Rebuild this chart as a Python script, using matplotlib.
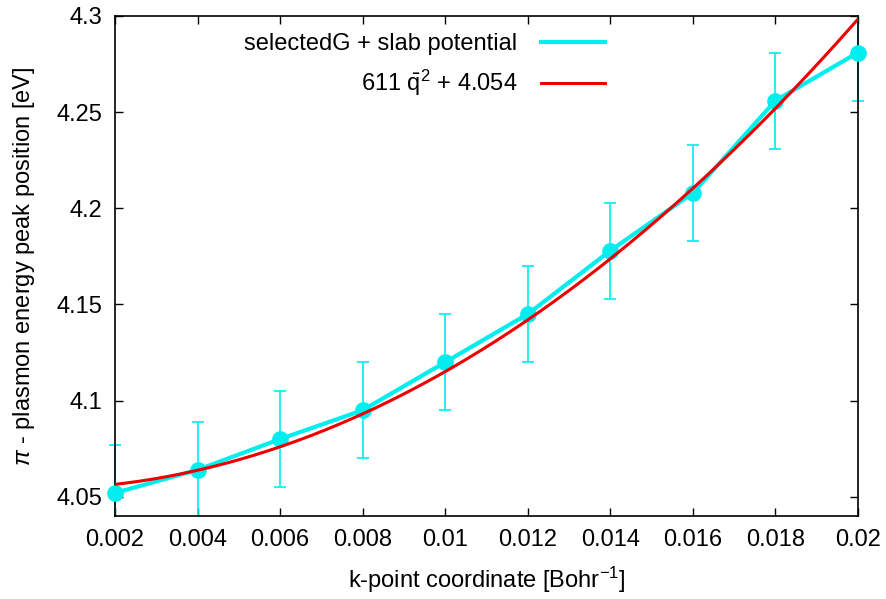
import numpy as np
import matplotlib.pyplot as plt
from matplotlib.lines import Line2D
from matplotlib.patches import Rectangle

plt.rcParams['font.family'] = ['Liberation Sans', 'DejaVu Sans']
plt.rcParams['mathtext.fontset'] = 'custom'
plt.rcParams['mathtext.rm'] = 'Liberation Sans'
plt.rcParams['mathtext.it'] = 'Liberation Sans:italic'

# peak positions vs k-point coordinate
kpoint = [0.002, 0.004, 0.006, 0.008, 0.010, 0.012, 0.014, 0.016, 0.018, 0.020]
peak = [4.052, 4.064, 4.080, 4.095, 4.120, 4.145, 4.178, 4.208, 4.256, 4.281]
peak_err = [0.025] * len(kpoint)

# quadratic fit a*q^2 + b
fit_a = 611.0
fit_b = 4.054

fs = 17

fig = plt.figure(figsize=(8.86, 5.99), dpi=100)
ax = fig.add_axes([115 / 886, 83 / 599, 743 / 886, 500 / 599])

cyan = '#00eeee'
eb = ax.errorbar(kpoint, peak, yerr=peak_err, fmt='none', ecolor=cyan,
                 elinewidth=1.2, capsize=4, capthick=1.2, zorder=2)
# let caps at the borders stick out sideways, but cut bars at top/bottom
clip = Rectangle((-0.03, 0), 1.06, 1, transform=ax.transAxes,
                 facecolor='none', edgecolor='none')
ax.add_patch(clip)
for art in eb.lines[1] + eb.lines[2]:
    art.set_clip_path(clip)

ax.plot(kpoint, peak, color=cyan, lw=3, marker='o', ms=11, zorder=3,
        clip_on=False)

q = np.linspace(0.002, 0.020, 300)
ax.plot(q, fit_a * q**2 + fit_b, color='#ee0000', lw=2.2, zorder=4)

ax.set_xlim(0.002, 0.020)
ax.set_ylim(4.04, 4.30)
ax.set_xticks(np.arange(0.002, 0.0201, 0.002))
ax.set_xticklabels(['0.002', '0.004', '0.006', '0.008', '0.01', '0.012',
                    '0.014', '0.016', '0.018', '0.02'])
ax.set_yticks([4.05, 4.10, 4.15, 4.20, 4.25, 4.30])
ax.set_yticklabels(['4.05', '4.1', '4.15', '4.2', '4.25', '4.3'])
ax.tick_params(direction='in', top=True, right=True, length=6, width=1,
               labelsize=fs, pad=9)
for s in ax.spines.values():
    s.set_linewidth(1.2)

ax.set_xlabel('k-point coordinate [Bohr$^{-1}$]', fontsize=fs, labelpad=10)
ax.set_ylabel(r'$\pi$ - plasmon energy peak position [eV]', fontsize=fs, labelpad=14)

handles = [Line2D([], [], color=cyan, lw=3),
           Line2D([], [], color='#ee0000', lw=2.2)]
labels = ['selectedG + slab potential', r'611 $\bar{\mathrm{q}}^2$ + 4.054']
ax.legend(handles, labels, loc='upper right', bbox_to_anchor=(0.688, 1.008),
          frameon=False, markerfirst=False, fontsize=fs, handlelength=2.7,
          handletextpad=1.0, labelspacing=0.55)

fig.savefig('out.png', dpi=100)
